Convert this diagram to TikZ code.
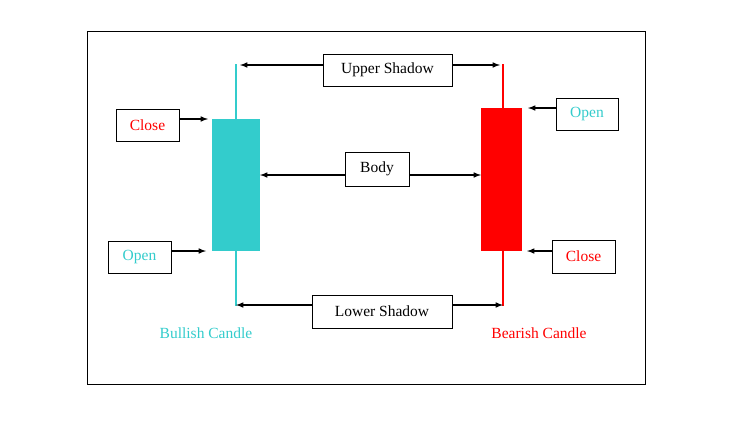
\documentclass[tikz,border=0pt]{standalone}
\usepackage{fontspec}
\setmainfont{Liberation Serif}
\begin{document}
\begin{tikzpicture}[x=1pt,y=-1pt,
 lab/.style={draw,fill=white,inner sep=0pt,font=\fontsize{15.5}{17}\selectfont},
 arr/.style={line width=1.5pt,-latex},
 both/.style={line width=1.5pt,latex-latex}]
\definecolor{cy}{HTML}{33CCCC}
\useasboundingbox (0,0) rectangle (746,429);
\draw (87,31) rectangle (645,384);
\draw[cy,line width=2pt] (236,64) -- (236,306);
\draw[red,line width=2pt] (503,64) -- (503,306);
\fill[cy] (212,119) rectangle (260,251);
\fill[red] (481,108) rectangle (522,251);
\coordinate (u1) at (240,65); \coordinate (u2) at (500,65);
\coordinate (b1) at (260,175); \coordinate (b2) at (481,175);
\coordinate (l1) at (236,305); \coordinate (l2) at (503,305);
\draw[both] (u1) -- (u2);
\draw[both] (b1) -- (b2);
\draw[both] (l1) -- (l2);
\node[lab,minimum width=129pt,minimum height=32pt] (us) at (387.5,70) {Upper Shadow};
\node[lab,minimum width=64pt,minimum height=34pt] (bd) at (377,169) {Body};
\node[lab,minimum width=140pt,minimum height=33pt] (ls) at (382,311.5) {Lower Shadow};
\node[lab,minimum width=63pt,minimum height=32pt,text=red] (cl) at (147.5,125) {Close};
\node[lab,minimum width=63pt,minimum height=32pt,text=cy] (ol) at (139.5,257) {Open};
\node[lab,minimum width=62pt,minimum height=32pt,text=cy] (or) at (587,114) {Open};
\node[lab,minimum width=63pt,minimum height=33pt,text=red] (cr) at (583.5,256.5) {Close};
\coordinate (clt) at (208,119); \coordinate (olt) at (206,251);
\coordinate (ort) at (528,108); \coordinate (crt) at (527,251);
\draw[arr] (cl.east |- clt) -- (clt);
\draw[arr] (ol.east |- olt) -- (olt);
\draw[arr] (or.west |- ort) -- (ort);
\draw[arr] (cr.west |- crt) -- (crt);
\node[text=cy,font=\fontsize{15.5}{17}\selectfont] (bu) at (206,333) {Bullish Candle};
\node[text=red,font=\fontsize{15.5}{17}\selectfont] (be) at (539,333) {Bearish Candle};
\end{tikzpicture}
\end{document}
